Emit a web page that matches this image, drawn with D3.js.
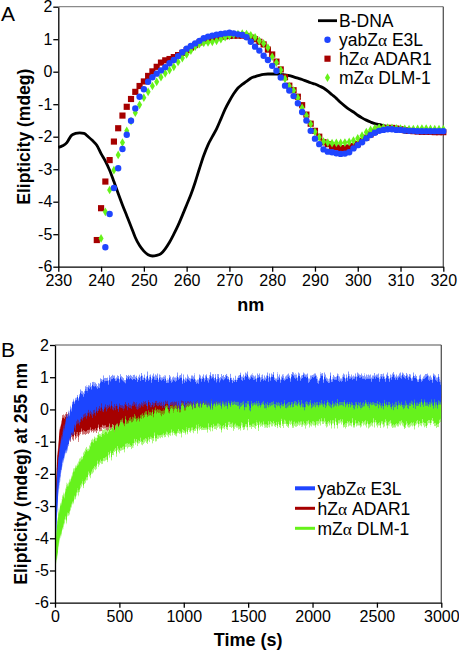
<!DOCTYPE html>
<html><head><meta charset="utf-8">
<script src="https://cdn.jsdelivr.net/npm/d3@7/dist/d3.min.js"></script>
<style>body{margin:0;background:#fff}svg{display:block}text{font-family:"Liberation Sans",Arial,sans-serif}</style>
</head><body><svg id="c" width="459" height="651"></svg>
<script>
// ---------- Panel A data ----------
const nmTicks = [230,240,250,260,270,280,290,300,310,320];
const mdegTicks = [-6,-5,-4,-3,-2,-1,0,1,2];
const bdnaStart = 230;
const bdnaVals = [-2.33,-2.28,-2.18,-1.97,-1.9,-1.88,-1.9,-2.0,-2.12,-2.26,
 -2.52,-2.75,-3.03,-3.38,-3.75,-4.1,-4.43,-4.76,-5.1,-5.35,
 -5.52,-5.63,-5.67,-5.65,-5.6,-5.45,-5.25,-5.0,-4.73,-4.42,
 -4.1,-3.78,-3.4,-2.98,-2.58,-2.25,-2.0,-1.76,-1.46,-1.15,
 -0.9,-0.68,-0.5,-0.39,-0.3,-0.2,-0.15,-0.11,-0.08,-0.07,
 -0.07,-0.07,-0.08,-0.1,-0.12,-0.16,-0.2,-0.24,-0.29,-0.34,
 -0.38,-0.44,-0.5,-0.6,-0.71,-0.82,-0.95,-1.06,-1.16,-1.24,
 -1.34,-1.42,-1.49,-1.55,-1.6,-1.62,-1.66,-1.69,-1.73,-1.78,
 -1.83,-1.86,-1.87,-1.87,-1.87,-1.87,-1.87,-1.87,-1.87,-1.87,-1.87];
const yabStart = 241;
const yabVals = [-5.4,-4.38,-3.58,-2.97,-2.38,-1.94,-1.51,-1.13,-0.77,-0.54,
 -0.31,-0.17,-0.06,0.04,0.14,0.26,0.36,0.48,0.6,0.71,
 0.79,0.87,0.95,1.03,1.08,1.11,1.14,1.16,1.18,1.2,
 1.18,1.15,1.13,1.06,0.92,0.77,0.65,0.49,0.36,0.18,
 0.03,-0.18,-0.43,-0.58,-0.75,-0.97,-1.24,-1.5,-1.82,-2.06,
 -2.23,-2.39,-2.46,-2.48,-2.51,-2.53,-2.52,-2.48,-2.36,-2.26,
 -2.17,-2.05,-1.95,-1.88,-1.82,-1.79,-1.77,-1.77,-1.79,-1.79,
 -1.81,-1.82,-1.82,-1.83,-1.83,-1.83,-1.83,-1.83,-1.83,-1.83];
const adarStart = 239;
const adarVals = [-5.18,-4.2,-3.38,-2.72,-2.15,-1.74,-1.35,-1.08,-0.84,-0.62,
 -0.44,-0.3,-0.13,0.01,0.15,0.28,0.35,0.39,0.45,0.51,
 0.58,0.66,0.74,0.82,0.9,0.96,1.0,1.04,1.06,1.08,
 1.09,1.1,1.11,1.11,1.11,1.1,1.05,1.0,0.92,0.84,
 0.68,0.53,0.31,0.07,-0.17,-0.43,-0.57,-0.77,-1.03,-1.32,
 -1.6,-1.82,-2.0,-2.17,-2.23,-2.31,-2.33,-2.36,-2.35,-2.33,
 -2.29,-2.23,-2.13,-2.03,-1.93,-1.85,-1.78,-1.75,-1.73,-1.73,
 -1.75,-1.77,-1.8,-1.82,-1.83,-1.84,-1.85,-1.85,-1.85,-1.86,-1.86,-1.86];
const dlmStart = 240;
const dlmVals = [-5.13,-4.31,-3.64,-3.03,-2.56,-2.18,-1.82,-1.52,-1.26,-1.02,
 -0.8,-0.62,-0.44,-0.31,-0.17,-0.05,0.05,0.15,0.3,0.42,
 0.53,0.65,0.77,0.85,0.89,0.9,0.92,0.95,1.0,1.06,
 1.1,1.14,1.16,1.17,1.16,1.12,1.06,0.95,0.87,0.74,
 0.46,0.28,0.05,-0.22,-0.44,-0.58,-0.8,-1.11,-1.35,-1.61,
 -1.85,-2.02,-2.15,-2.18,-2.2,-2.19,-2.19,-2.18,-2.16,-2.12,
 -2.05,-1.97,-1.86,-1.79,-1.74,-1.72,-1.72,-1.72,-1.73,-1.74,
 -1.75,-1.76,-1.77,-1.77,-1.76,-1.75,-1.75,-1.76,-1.77,-1.77,-1.77];

// ---------- Panel B data (envelope of noisy traces) ----------
const timeTicks = [0,500,1000,1500,2000,2500,3000];
const bTicks = [-6,-5,-4,-3,-2,-1,0,1,2];
const yabT  = [0,5,13,25,39,60,91,130,168,246,350,500,738,1126,1500,2000,2500,3000];
const yabLo = [-5.2,-4.2,-3.4,-2.6,-2.1,-1.6,-1.15,-0.75,-0.45,-0.15,0.05,0.15,0.2,0.22,0.2,0.2,0.2,0.22];
const yabHi = [-4.6,-3.4,-2.3,-1.7,-1.2,-0.8,-0.35,0.05,0.3,0.55,0.8,0.9,0.92,0.92,0.95,0.95,0.95,0.95];
const adarT  = [0,5,13,25,39,60,91,130,168,246,350,500,738,1126,1500,2000,3000];
const adarLo = [-5.2,-3.8,-3.0,-2.0,-1.3,-1.1,-0.95,-0.85,-0.75,-0.65,-0.55,-0.45,-0.33,-0.15,-0.1,-0.05,-0.05];
const adarHi = [-4.5,-2.8,-1.9,-1.2,-0.6,-0.35,-0.25,-0.2,-0.1,0.0,0.1,0.2,0.3,0.4,0.45,0.45,0.45];
const dlmT  = [0,5,13,25,39,60,91,130,168,246,350,450,608,867,1126,1500,2000,2500,3000];
const dlmLo = [-5.3,-4.9,-4.6,-4.3,-3.95,-3.6,-3.3,-2.95,-2.6,-2.1,-1.6,-1.3,-1.05,-0.75,-0.55,-0.45,-0.4,-0.4,-0.38];
const dlmHi = [-4.7,-4.2,-3.7,-3.4,-3.1,-2.8,-2.5,-2.15,-1.8,-1.3,-0.85,-0.6,-0.35,-0.05,0.12,0.22,0.27,0.27,0.25];

const BLUE = "#1f45ff", RED = "#a60000", GREEN = "#66f21a";
const fmt = d => String(d);

const svg = d3.select("#c");

// visual texture for the noisy traces (edge jitter only)
const defs = svg.append("defs");
const f = defs.append("filter").attr("id","jit").attr("x","-2%").attr("y","-30%").attr("width","104%").attr("height","160%");
f.append("feTurbulence").attr("type","fractalNoise").attr("baseFrequency","0.7 0.03").attr("numOctaves",2).attr("seed",7).attr("result","t");
f.append("feColorMatrix").attr("in","t").attr("type","matrix")
  .attr("values","0 0 0 0 0.5  1 0 0 0 0  0 0 0 0 0  0 0 0 0 1").attr("result","m");
f.append("feDisplacementMap").attr("in","SourceGraphic").attr("in2","m").attr("scale",16)
  .attr("xChannelSelector","R").attr("yChannelSelector","G");

function alphaLabel(sel, pre, post){
  sel.append("tspan").text(pre);
  sel.append("tspan").attr("font-family","'Liberation Serif',serif").text("α");
  sel.append("tspan").text(post);
}
function styleAxis(a){
  a.selectAll("text").attr("font-size",16).attr("fill","#000").style("font-family","'Liberation Sans',Arial");
  a.selectAll("path,line").attr("stroke","#000").attr("stroke-width",1.3);
}

// ================= Panel A =================
const xA = d3.scaleLinear().domain([230,320]).range([58.3,443.3]);
const yA = d3.scaleLinear().domain([-6,2]).range([266.7,6.7]);
const gA = svg.append("g");

gA.append("line").attr("x1",xA(230)).attr("x2",xA(320)).attr("y1",yA(2)).attr("y2",yA(2)).attr("stroke","#8a8a8a").attr("stroke-width",1.3);
gA.append("line").attr("x1",xA(320)).attr("x2",xA(320)).attr("y1",yA(2)).attr("y2",yA(-6)).attr("stroke","#555").attr("stroke-width",1.3);

const axXA = gA.append("g").attr("transform",`translate(0,${yA(-6)})`)
  .call(d3.axisBottom(xA).tickValues(nmTicks).tickFormat(fmt).tickSize(5).tickPadding(3).tickSizeOuter(0));
const axYA = gA.append("g").attr("transform",`translate(${xA(230)},0)`)
  .call(d3.axisLeft(yA).tickValues(mdegTicks).tickFormat(fmt).tickSize(5).tickPadding(1).tickSizeOuter(0));
styleAxis(axXA); styleAxis(axYA);

const bdna = bdnaVals.map((v,i)=>[bdnaStart+i,v]);
gA.append("path").datum(bdna).attr("fill","none").attr("stroke","#000").attr("stroke-width",2.8)
  .attr("stroke-linejoin","round")
  .attr("d",d3.line().x(d=>xA(d[0])).y(d=>yA(d[1])).curve(d3.curveMonotoneX));

const sym = {
  circle: d3.symbol().type(d3.symbolCircle).size(32),
  square: d3.symbol().type(d3.symbolSquare).size(38),
  diamond: d3.symbol().type(d3.symbolDiamond).size(22)
};
const markerSeries = [
  {start:adarStart, vals:adarVals, color:RED, s:"square"},
  {start:dlmStart, vals:dlmVals, color:GREEN, s:"diamond"},
  {start:yabStart, vals:yabVals, color:BLUE, s:"circle"}
];
markerSeries.forEach(ser=>{
  gA.append("g").selectAll("path").data(ser.vals.map((v,i)=>[ser.start+i,v])).join("path")
    .attr("d",sym[ser.s]()).attr("fill",ser.color)
    .attr("transform",d=>`translate(${xA(d[0])},${yA(d[1])})`);
});

gA.append("text").attr("x",1).attr("y",21).attr("font-size",21).text("A");
gA.append("text").attr("transform",`translate(29.5,${(yA(2)+yA(-6))/2}) rotate(-90)`).attr("text-anchor","middle")
  .attr("font-size",17.5).attr("font-weight","bold").text("Elipticity (mdeg)");
gA.append("text").attr("x",(xA(230)+xA(320))/2).attr("y",311).attr("text-anchor","middle")
  .attr("font-size",18).attr("font-weight","bold").text("nm");

// Legend A
const legA = gA.append("g");
const legAItems = [
  {label:["B-DNA"], type:"line"},
  {label:["yabZ"," E3L"], type:"circle", color:BLUE},
  {label:["hZ"," ADAR1"], type:"square", color:RED},
  {label:["mZ"," DLM-1"], type:"diamond", color:GREEN}
];
legAItems.forEach((it,i)=>{
  const cy = 20.7 + i*19;
  if(it.type==="line"){
    legA.append("line").attr("x1",318).attr("x2",337).attr("y1",cy).attr("y2",cy).attr("stroke","#000").attr("stroke-width",2.8);
  } else {
    legA.append("path").attr("d",sym[it.type]()).attr("fill",it.color).attr("transform",`translate(327.5,${cy})`);
  }
  const t = legA.append("text").attr("x",339).attr("y",cy+6.3).attr("font-size",17.5);
  if(it.label.length===1) t.text(it.label[0]); else alphaLabel(t,it.label[0],it.label[1]);
});

// ================= Panel B =================
const xB = d3.scaleLinear().domain([0,3000]).range([55,441.3]);
const yB = d3.scaleLinear().domain([-6,2]).range([602.7,345]);
const gB = svg.append("g");

gB.append("line").attr("x1",xB(0)).attr("x2",xB(3000)).attr("y1",yB(2)).attr("y2",yB(2)).attr("stroke","#8a8a8a").attr("stroke-width",1.3);
gB.append("line").attr("x1",xB(3000)).attr("x2",xB(3000)).attr("y1",yB(2)).attr("y2",yB(-6)).attr("stroke","#555").attr("stroke-width",1.3);

const bands = [
  {t:adarT, lo:adarLo, hi:adarHi, color:RED},
  {t:dlmT, lo:dlmLo, hi:dlmHi, color:GREEN},
  {t:yabT, lo:yabLo, hi:yabHi, color:BLUE}
];
const clipB = defs.append("clipPath").attr("id","clipB");
clipB.append("rect").attr("x",xB(0)).attr("y",yB(2)).attr("width",xB(3000)-xB(0)).attr("height",yB(-6)-yB(2));
const plotB = gB.append("g").attr("clip-path","url(#clipB)");
bands.forEach(b=>{
  const pts = b.t.map((t,i)=>({t, lo:b.lo[i], hi:b.hi[i]}));
  const g = plotB.append("g").attr("filter","url(#jit)");
  g.append("path").datum(pts).attr("fill",b.color).attr("opacity",0.55)
    .attr("d",d3.area().x(d=>xB(d.t)).y0(d=>yB(d.lo-0.1)).y1(d=>yB(d.hi+0.1)).curve(d3.curveMonotoneX));
  g.append("path").datum(pts).attr("fill",b.color)
    .attr("d",d3.area().x(d=>xB(d.t)).y0(d=>yB(d.lo)).y1(d=>yB(d.hi)).curve(d3.curveMonotoneX));
});

const axXB = gB.append("g").attr("transform",`translate(0,${yB(-6)})`)
  .call(d3.axisBottom(xB).tickValues(timeTicks).tickFormat(fmt).tickSize(5).tickPadding(3).tickSizeOuter(0));
const axYB = gB.append("g").attr("transform",`translate(${xB(0)},0)`)
  .call(d3.axisLeft(yB).tickValues(bTicks).tickFormat(fmt).tickSize(5).tickPadding(1).tickSizeOuter(0));
styleAxis(axXB); styleAxis(axYB);

gB.append("text").attr("x",1).attr("y",357).attr("font-size",21).text("B");
gB.append("text").attr("transform",`translate(26.5,${(yB(2)+yB(-6))/2}) rotate(-90)`).attr("text-anchor","middle")
  .attr("font-size",17.5).attr("font-weight","bold").text("Elipticity (mdeg) at 255 nm");
gB.append("text").attr("x",(xB(0)+xB(3000))/2).attr("y",646).attr("text-anchor","middle")
  .attr("font-size",18).attr("font-weight","bold").text("Time (s)");

const legB = gB.append("g");
const legBItems = [
  {label:["yabZ"," E3L"], color:BLUE, w:4},
  {label:["hZ"," ADAR1"], color:RED, w:3},
  {label:["mZ"," DLM-1"], color:GREEN, w:3}
];
legBItems.forEach((it,i)=>{
  const cy = 488.3 + i*20;
  legB.append("line").attr("x1",295).attr("x2",315).attr("y1",cy).attr("y2",cy).attr("stroke",it.color).attr("stroke-width",it.w);
  const t = legB.append("text").attr("x",317.5).attr("y",cy+6.3).attr("font-size",17.5);
  alphaLabel(t,it.label[0],it.label[1]);
});
</script></body></html>
